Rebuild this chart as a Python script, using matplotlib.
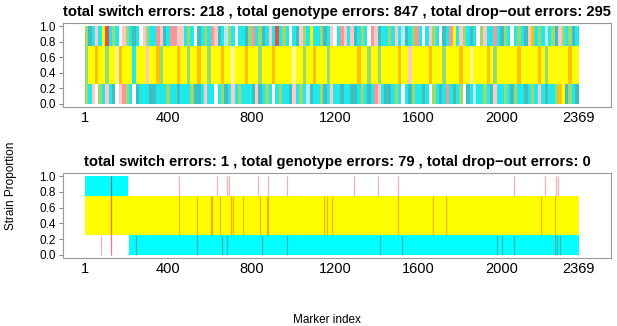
import numpy as np
import matplotlib.pyplot as plt

plt.rcParams['font.family'] = ['Liberation Sans', 'DejaVu Sans']

n_markers = 2369
xticks = [1, 400, 800, 1200, 1600, 2000, 2369]
yticks = [0.0, 0.2, 0.4, 0.6, 0.8, 1.0]

titles = [
    "total switch errors: 218 , total genotype errors: 847 , total drop\u2212out errors: 295",
    "total switch errors: 1 , total genotype errors: 79 , total drop\u2212out errors: 0",
]

# top panel: colour code per block of markers, one string per strain band
top_hi = ("gtcpcyrcgcwpgctcwpgccsptc"
          "ssppcgcwtcgcsptcbgcwcctgs"
          "cgtcpcrcgcwctpgcyccgtcpwc"
          "spcptcgcwsptccgcpcbtcgscw"
          "cpgcwtcsycpgctcwgpccsctgc"
          "wcgctpocgcbcgtpgcgtc")
top_mid = ("gyyoyygyyloyyycyyypyyogyy"
           "yyoyygyyoyygyyyoyylyyyoyy"
           "ygyyyoyyyyylyygyyoyyygyyy"
           "yyyyyoyygyygyyyyyoyypyyyy"
           "yoyyygyyyyoyylyyyyoygyyyy"
           "yyoyyyyyoygyyyyyyoyy")
top_lo = ("gcpwgcpctwpsgcwtcccttcccg"
          "cctcccgttcpccwcgtcpcgccct"
          "ptcgcwcgcctpcgcbtccgtcpcc"
          "tccttcgctcspcttcgcwctgcct"
          "cwgctcsctcgwtcbccgctpccgc"
          "tgcctcgcpctccgoytgct")

palette = {
    'c': '#22E8E8', 't': '#3CBFC0', 'y': '#FFFF00', 'o': '#FFC000',
    'g': '#98DB74', 'p': '#FFC8C8', 's': '#F29A9A', 'r': '#E8504A',
    'w': '#FFFFFF', 'b': '#B8E8F0', 'l': '#FFF59A',
}

# bottom panel: runs of markers per band, and genotype error markers per band
bot_hi_runs = [(1, 207)]
bot_mid_runs = [(1, 2369)]
bot_lo_runs = [(212, 2369)]
err_hi = [126, 126, 452, 634, 682, 692, 831, 879, 970, 1291, 1406, 1502,
          2058, 2207, 2260, 2270]
err_mid = [126, 126, 452, 538, 605, 610, 648, 701, 711, 759, 840, 874, 879,
           1147, 1162, 1186, 1502, 1670, 1732, 2188, 2255]
err_lo = [78, 126, 126, 246, 538, 658, 682, 850, 970, 1416, 1521, 1977, 2001,
          2058, 2255, 2265, 2279]

bands = [(0.75, 0.25), (0.25, 0.5), (0.0, 0.25)]

fig = plt.figure(figsize=(6.17, 3.26), dpi=100)
ax1 = fig.add_axes([0.102, 0.672, 0.888, 0.257])
ax2 = fig.add_axes([0.102, 0.209, 0.888, 0.260])

# top panel
for codes, (b0, h) in zip([top_hi, top_mid, top_lo], bands):
    edges = np.linspace(0.5, n_markers + 0.5, len(codes) + 1)
    cols = [palette[ch] for ch in codes]
    ax1.bar(edges[:-1], h, width=np.diff(edges), bottom=b0, color=cols,
            align='edge', linewidth=0)

# bottom panel
for runs, (b0, h) in zip([bot_hi_runs, bot_mid_runs, bot_lo_runs], bands):
    col = '#FFFF00' if b0 == 0.25 else '#00FFFF'
    for s, e in runs:
        ax2.bar(s - 0.5, h, width=e - s + 1, bottom=b0, color=col,
                align='edge', linewidth=0)
for errs, (b0, h) in zip([err_hi, err_mid, err_lo], bands):
    ax2.vlines(errs, b0, b0 + h, color='#E00000', alpha=0.3, lw=0.9)

for ax, t in zip([ax1, ax2], titles):
    ax.set_xlim(-104, 2524)
    ax.set_ylim(-0.04, 1.04)
    ax.set_xticks(xticks)
    ax.set_xticklabels([str(v) for v in xticks], fontsize=10.5)
    ax.set_yticks(yticks)
    ax.set_yticklabels([f"{v:.1f}" for v in yticks], fontsize=8.5)
    ax.tick_params(axis='x', length=0, pad=3)
    ax.tick_params(axis='y', length=3, color='#888888', pad=2)
    for sp in ax.spines.values():
        sp.set_color('#999999')
        sp.set_linewidth(0.8)
    ax.set_title(t, fontsize=10.6, fontweight='bold', pad=5)

fig.text(0.018, 0.43, 'Strain Proportion', rotation=90, fontsize=8.5,
         ha='center', va='center')
fig.text(0.53, 0.018, 'Marker index', fontsize=8.5, ha='center', va='center')

fig.savefig('out.png', dpi=100)
